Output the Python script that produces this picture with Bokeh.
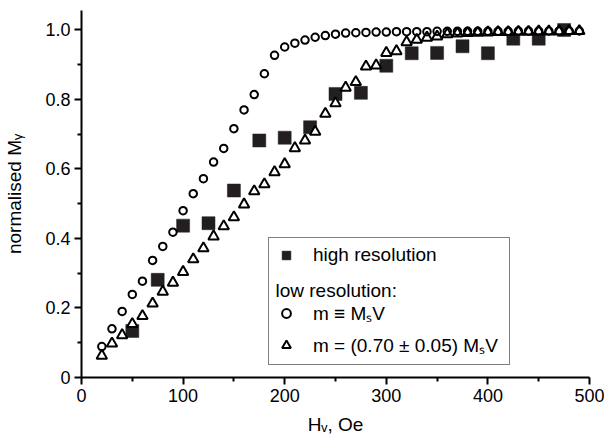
import math
from bokeh.plotting import figure
from bokeh.models import FixedTicker, CustomJSTickFormatter, Label, Legend, LegendItem
from bokeh.embed import file_html
from bokeh.resources import INLINE

# ---------------- data ----------------
H_high = [50, 75, 100, 125, 150, 175, 200, 225, 250, 275, 300, 325, 350, 375, 400, 425, 450, 475]
M_high = [0.134, 0.281, 0.437, 0.444, 0.538, 0.682, 0.690, 0.720, 0.816, 0.819, 0.897, 0.933,
          0.934, 0.953, 0.933, 0.975, 0.975, 1.000]

H_low = [20, 30, 40, 50, 60, 70, 80, 90, 100, 110, 120, 130, 140, 150, 160, 170, 180, 190,
         200, 210, 220, 230, 240, 250, 260, 270, 280, 290, 300, 310, 320, 330, 340, 350,
         360, 370, 380, 390, 400, 410, 420, 430, 440, 450, 460, 470, 480, 490]
M_circle = [0.089, 0.140, 0.190, 0.239, 0.277, 0.337, 0.377, 0.418, 0.480, 0.529, 0.572, 0.620,
            0.659, 0.716, 0.770, 0.814, 0.874, 0.927, 0.951, 0.962, 0.971, 0.979, 0.984, 0.988,
            0.991, 0.992, 0.993, 0.994, 0.994, 0.995, 0.995, 0.995, 0.995, 0.996, 0.996, 0.996,
            0.996, 0.996, 0.996, 0.996, 0.996, 0.997, 0.997, 0.997, 0.997, 0.997, 0.997, 0.997]
M_triangle = [0.063, 0.098, 0.122, 0.154, 0.177, 0.213, 0.247, 0.273, 0.304, 0.340, 0.372, 0.406,
              0.435, 0.461, 0.498, 0.536, 0.556, 0.591, 0.614, 0.660, 0.682, 0.707, 0.759, 0.789,
              0.834, 0.850, 0.895, 0.898, 0.934, 0.939, 0.965, 0.972, 0.978, 0.981, 0.988, 0.990,
              0.991, 0.992, 0.993, 0.994, 0.994, 0.995, 0.995, 0.996, 0.996, 0.996, 0.997, 0.997]

x_ticks = [0, 100, 200, 300, 400, 500]
x_tick_labels = ["0", "100", "200", "300", "400", "500"]
x_minor = [50, 150, 250, 350, 450]
y_ticks = [0, 0.2, 0.4, 0.6, 0.8, 1.0]
y_tick_labels = ["0", "0.2", "0.4", "0.6", "0.8", "1.0"]
y_minor = [0.1, 0.3, 0.5, 0.7, 0.9]

legend_labels = ["high resolution", "low resolution:",
                 "m \u2261 M\u209bV", "m = (0.70 \u00b1 0.05) M\u209bV"]
x_title = "H\u1d65, Oe"
y_title = "normalised M\u1d67"

FONT = "Liberation Sans"
W, H = 604, 439
LEFT, RIGHT, TOP, BOTTOM = 81, 15, 10, 62
X0, X1 = 0, 500
Y0, Y1 = 0, 1.056

def dx(px):   # canvas pixel -> data x
    return X0 + (px - LEFT) * (X1 - X0) / (W - LEFT - RIGHT)

def dy(py):   # canvas pixel -> data y
    return Y1 - (py - TOP) * (Y1 - Y0) / (H - TOP - BOTTOM)

p = figure(width=W, height=H, x_range=(X0, X1), y_range=(Y0, Y1), title=None,
           toolbar_location=None, output_backend="svg",
           min_border_left=LEFT, min_border_right=RIGHT, min_border_top=TOP,
           min_border_bottom=BOTTOM)
p.outline_line_color = None
p.grid.visible = False
p.background_fill_color = "white"
p.border_fill_color = "white"

sq = p.scatter(H_high, M_high, marker="square", size=13, fill_color="#231f20",
               line_color="#231f20", line_width=0.5)
tri = p.scatter(H_low, M_triangle, marker="triangle", size=10.5, fill_color="white",
                line_color="black", line_width=2)
cir = p.scatter(H_low, M_circle, marker="circle", size=7.5, fill_color=None,
                line_color="black", line_width=2)

def style_axis(ax):
    ax.axis_line_width = 2
    ax.axis_line_color = "black"
    ax.major_tick_line_width = 2
    ax.minor_tick_line_width = 2
    ax.major_tick_in = 0
    ax.minor_tick_in = 0
    ax.major_tick_out = 7
    ax.minor_tick_out = 4
    ax.major_label_standoff = 4
    ax.major_label_text_font = FONT
    ax.major_label_text_font_size = "18px"
    ax.major_label_text_color = "black"
    ax.axis_label_text_font = FONT
    ax.axis_label_text_font_size = "19px"
    ax.axis_label_text_font_style = "normal"
    ax.axis_label_text_color = "black"

xa = p.xaxis[0]
xa.ticker = FixedTicker(ticks=x_ticks, minor_ticks=x_minor)
xa.formatter = CustomJSTickFormatter(args=dict(vals=x_ticks, labs=x_tick_labels), code="""
const i = vals.findIndex(v => Math.abs(v - tick) < 1e-9); return i >= 0 ? labs[i] : "";""")
style_axis(xa)
xa.axis_label = x_title
xa.axis_label_standoff = 9

ya = p.yaxis[0]
ya.ticker = FixedTicker(ticks=y_ticks, minor_ticks=y_minor)
ya.formatter = CustomJSTickFormatter(args=dict(vals=y_ticks, labs=y_tick_labels), code="""
const i = vals.findIndex(v => Math.abs(v - tick) < 1e-9); return i >= 0 ? labs[i] : "";""")
style_axis(ya)
ya.axis_label = y_title
ya.axis_label_standoff = 17

# ---------------- legend ----------------
header = Label(x=dx(275), y=dy(290), text=legend_labels[1], text_font=FONT,
               text_font_size="19px", text_color="black", text_align="left",
               text_baseline="middle", level="overlay")
p.add_layout(header)

legend = Legend(items=[
    LegendItem(label=legend_labels[0], renderers=[sq]),
    LegendItem(label=" ", renderers=[]),
    LegendItem(label=legend_labels[2], renderers=[cir]),
    LegendItem(label=legend_labels[3], renderers=[tri]),
], location=(268 - LEFT, (H - BOTTOM) - 365), orientation="vertical")
legend.border_line_color = "black"
legend.border_line_width = 1
legend.background_fill_alpha = 0
legend.label_text_font = FONT
legend.label_text_font_size = "19px"
legend.label_text_color = "black"
legend.glyph_width = 22
legend.glyph_height = 22
legend.label_height = 20
legend.label_width = 190
legend.label_standoff = 16
legend.spacing = 6
legend.padding = 6
legend.margin = 0
legend.level = "annotation"
p.add_layout(legend)

open("out.html", "w").write(file_html(p, INLINE))
